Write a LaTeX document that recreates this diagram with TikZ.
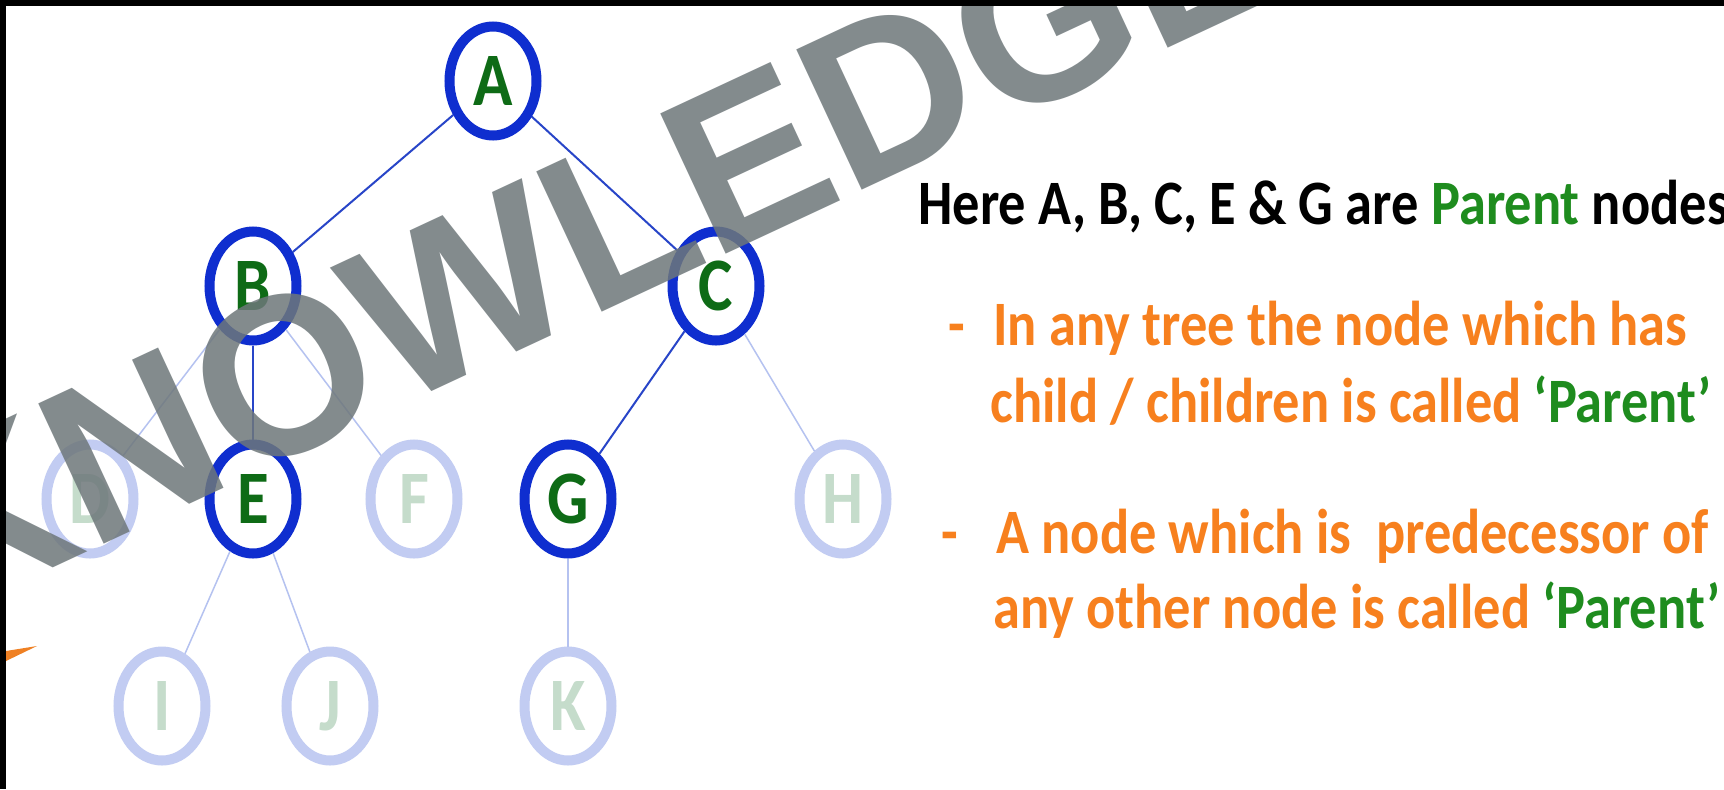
\documentclass[tikz,border=0pt]{standalone}
\usepackage{fontspec}
\usepackage{tikz}
\usetikzlibrary{shapes.geometric,positioning}
\newfontfamily\slidefont[FakeStretch=0.86]{Carlito}
\newfontfamily\markfont{Liberation Sans}
\definecolor{ringblue}{HTML}{0F2ECF}
\definecolor{ringpale}{HTML}{C2CCF2}
\definecolor{leafgreen}{HTML}{0E6B16}
\definecolor{greenpale}{HTML}{C5DCCB}
\definecolor{edgeblue}{HTML}{2845C8}
\definecolor{edgepale}{HTML}{B5C2F0}
\definecolor{parentgreen}{HTML}{1E8C1E}
\definecolor{slideorange}{HTML}{F7801E}
\definecolor{markgrey}{HTML}{6E777A}

\begin{document}
\begin{tikzpicture}[
  tnode/.style={ellipse,draw=ringblue,line width=0.2cm,minimum width=1.74cm,minimum height=2.18cm,inner sep=0pt,text=leafgreen,font=\slidefont\bfseries\fontsize{43}{43}\selectfont},
  pale/.style={tnode,draw=ringpale,text=greenpale},
  link/.style={draw=edgeblue,line width=0.04cm},
  palelink/.style={draw=edgepale,line width=0.03cm},
  headtxt/.style={anchor=base west,inner sep=0pt,font=\slidefont\bfseries\fontsize{36}{43}\selectfont},
  bullet/.style={anchor=base west,inner sep=0pt,text=slideorange,font=\slidefont\bfseries\fontsize{36}{43}\selectfont}
]
\useasboundingbox (0,0) rectangle (34.48,-15.78);
\clip (0,0) rectangle (34.48,-15.78);
\fill[white] (0,0) rectangle (34.48,-15.78);

% tree
\node[tnode] (A) at (9.86,-1.62) {A};
\node[tnode] (B) at (5.06,-5.72) {B};
\node[tnode] (C) at (14.32,-5.72) {C};
\node[pale] (D) at (1.80,-9.98) {D};
\node[tnode] (E) at (5.06,-9.98) {E};
\node[pale] (F) at (8.28,-9.98) {F};
\node[tnode] (G) at (11.36,-9.98) {G};
\node[pale] (H) at (16.86,-9.98) {H};
\node[pale] (I) at (3.24,-14.12) {I};
\node[pale] (J) at (6.60,-14.12) {J};
\node[pale] (K) at (11.36,-14.12) {K};

\draw[link] (A) -- (B);
\draw[link] (A) -- (C);
\draw[link] (B) -- (E);
\draw[link] (C) -- (G);
\draw[palelink] (B) -- (D);
\draw[palelink] (B) -- (F);
\draw[palelink] (C) -- (H);
\draw[palelink] (E) -- (I);
\draw[palelink] (E) -- (J);
\draw[palelink] (G) -- (K);

% text
\node[headtxt] (head) at (18.36,-4.48) {Here A, B, C, E \& G are \textcolor{parentgreen}{Parent} nodes};
\node[bullet,anchor=base] (d1) at (19.14,-6.90) {-};
\node[bullet] (b1) at (19.86,-6.90) {In any tree the node which has};
\node[bullet] (b1x) at (19.80,-8.44) {child / children is called \textcolor{parentgreen}{‘Parent’}};
\node[bullet,anchor=base] (d2) at (19.00,-11.06) {-};
\node[bullet] (b2) at (19.92,-11.06) {A node which is\ \ predecessor of};
\node[bullet] (b2x) at (19.86,-12.56) {any other node is called \textcolor{parentgreen}{‘Parent’}};

% watermark
\node[rotate=25,text=markgrey,opacity=0.85,font=\markfont\bfseries\fontsize{128}{128}\selectfont] (mark) at (11.68,-4.70) {KNOWLEDGE};
\fill[slideorange!85!brown] (0.12,-13.02) -- (0.74,-12.92) -- (0.12,-13.22) -- cycle;

% frame
\fill[black] (0,0) rectangle (34.48,-0.11);
\fill[black] (0,0) rectangle (0.12,-15.78);
\end{tikzpicture}
\end{document}
